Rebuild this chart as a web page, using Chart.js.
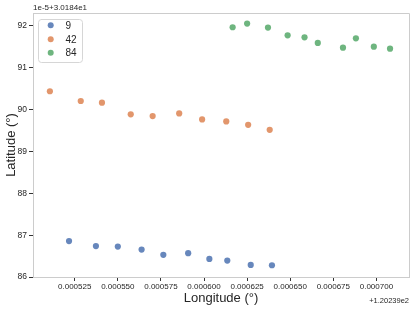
<!DOCTYPE html>
<html>
<head>
<meta charset="utf-8">
<script src="https://cdn.jsdelivr.net/npm/chart.js@4/dist/chart.umd.min.js"></script>
<style>
html,body{margin:0;padding:0;background:#fff;}
#wrap{width:415px;height:309px;}
</style>
</head>
<body>
<div id="wrap"><canvas id="c" width="415" height="309"></canvas></div>
<script>
// Series labels
const seriesNames = ["9", "42", "84"];
// Longitude offsets (value - 120.239), latitude offsets (value in 1e-5 units above 30.184)
const lon9 = [0.0005217, 0.0005373, 0.0005500, 0.0005638, 0.0005764, 0.0005908, 0.0006031, 0.0006135, 0.0006271, 0.0006394];
const lat9 = [86.858, 86.738, 86.728, 86.656, 86.529, 86.569, 86.433, 86.392, 86.288, 86.281];
const lon42 = [0.0005106, 0.0005285, 0.0005408, 0.0005575, 0.0005702, 0.0005856, 0.0005989, 0.0006129, 0.0006256, 0.0006381];
const lat42 = [90.440, 90.207, 90.166, 89.887, 89.846, 89.910, 89.767, 89.718, 89.637, 89.517];
const lon84 = [0.0006166, 0.0006250, 0.0006371, 0.0006485, 0.0006583, 0.0006660, 0.0006806, 0.0006881, 0.0006985, 0.0007079];
const lat84 = [91.969, 92.058, 91.962, 91.777, 91.728, 91.594, 91.481, 91.704, 91.505, 91.457];
// Tick values
const xTicks = [0.000525, 0.000550, 0.000575, 0.000600, 0.000625, 0.000650, 0.000675, 0.000700];
const yTicks = [86, 87, 88, 89, 90, 91, 92];

const colors = ["rgba(76,114,176,0.85)", "rgba(221,132,82,0.85)", "rgba(85,168,104,0.85)"];
const FONT = "'Liberation Sans', Arial, sans-serif";

function pts(xs, ys){ return xs.map((x,i)=>({x:x, y:ys[i]})); }
const lons = [lon9, lon42, lon84], lats = [lat9, lat42, lat84];

const datasets = seriesNames.map((n,i)=>({
  label: n,
  data: pts(lons[i], lats[i]),
  backgroundColor: colors[i],
  borderColor: colors[i],
  borderWidth: 0,
  pointRadius: 3.1,
  pointHoverRadius: 3.1
}));

const extras = {
  id: 'extras',
  afterDraw(chart){
    const ctx = chart.ctx, a = chart.chartArea;
    ctx.save();
    // top & right spines
    ctx.strokeStyle = '#cccccc';
    ctx.lineWidth = 1;
    ctx.beginPath();
    ctx.moveTo(a.left, a.top + 0.5); ctx.lineTo(a.right + 0.5, a.top + 0.5); ctx.lineTo(a.right + 0.5, a.bottom);
    ctx.stroke();
    // offset texts
    ctx.fillStyle = '#262626';
    ctx.font = "8px " + FONT;
    ctx.textBaseline = 'alphabetic';
    ctx.textAlign = 'left';
    ctx.fillText("1e-5+3.0184e1", a.left, 10);
    ctx.font = "7.5px " + FONT;
    ctx.textAlign = 'right';
    ctx.fillText("+1.20239e2", a.right, 303);
    // legend
    const bx = 38, by = 19, bw = 44, bh = 43, r = 3;
    ctx.fillStyle = 'rgba(255,255,255,0.8)';
    ctx.strokeStyle = '#d6d6d6';
    ctx.beginPath();
    ctx.moveTo(bx + r, by + 0.5);
    ctx.arcTo(bx + bw + 0.5, by + 0.5, bx + bw + 0.5, by + bh, r);
    ctx.arcTo(bx + bw + 0.5, by + bh + 0.5, bx, by + bh + 0.5, r);
    ctx.arcTo(bx + 0.5, by + bh + 0.5, bx + 0.5, by, r);
    ctx.arcTo(bx + 0.5, by + 0.5, bx + bw, by + 0.5, r);
    ctx.closePath();
    ctx.fill(); ctx.stroke();
    const rows = [25.3, 39.3, 52.7];
    chart.data.datasets.forEach((ds, i) => {
      ctx.fillStyle = ds.backgroundColor;
      ctx.beginPath(); ctx.arc(50.7, rows[i], 3, 0, Math.PI*2); ctx.fill();
      ctx.fillStyle = '#262626';
      ctx.font = "10px " + FONT;
      ctx.textAlign = 'left';
      ctx.textBaseline = 'middle';
      ctx.fillText(ds.label, 65.5, rows[i] + 0.5);
    });
    ctx.restore();
  }
};

new Chart(document.getElementById('c'), {
  type: 'scatter',
  data: { datasets },
  plugins: [extras],
  options: {
    responsive: false,
    animation: false,
    devicePixelRatio: 1,
    layout: { padding: { top: 13, right: 6, left: 4, bottom: 3 } },
    plugins: { legend: { display: false }, tooltip: { enabled: false } },
    scales: {
      x: {
        type: 'linear',
        min: 0.0005008, max: 0.0007189,
        afterBuildTicks: (ax) => { ax.ticks = xTicks.map(v => ({value: v})); },
        afterFit: (ax) => { ax.height = 29; },
        ticks: {
          color: '#262626', font: { family: FONT, size: 8 }, padding: 1,
          maxRotation: 0, autoSkip: false,
          callback: (v) => Number(v).toFixed(6)
        },
        grid: { drawOnChartArea: false, drawTicks: true, tickLength: 4, color: '#333333', lineWidth: 1 },
        border: { color: '#cccccc', width: 1 },
        title: { display: true, text: 'Longitude (°)', color: '#262626', font: { family: FONT, size: 13 }, padding: { top: 0, bottom: 0 } }
      },
      y: {
        type: 'linear',
        min: 86.0, max: 92.31,
        afterBuildTicks: (ax) => { ax.ticks = yTicks.map(v => ({value: v})); },
        afterFit: (ax) => { ax.width = 29; },
        ticks: {
          color: '#262626', font: { family: FONT, size: 8.5 }, padding: 2,
          callback: (v) => String(v)
        },
        grid: { drawOnChartArea: false, drawTicks: true, tickLength: 4, color: '#333333', lineWidth: 1 },
        border: { color: '#cccccc', width: 1 },
        title: { display: true, text: 'Latitude (°)', color: '#262626', font: { family: FONT, size: 13 }, padding: { top: 0, bottom: 2 } }
      }
    }
  }
});
</script>
</body>
</html>
